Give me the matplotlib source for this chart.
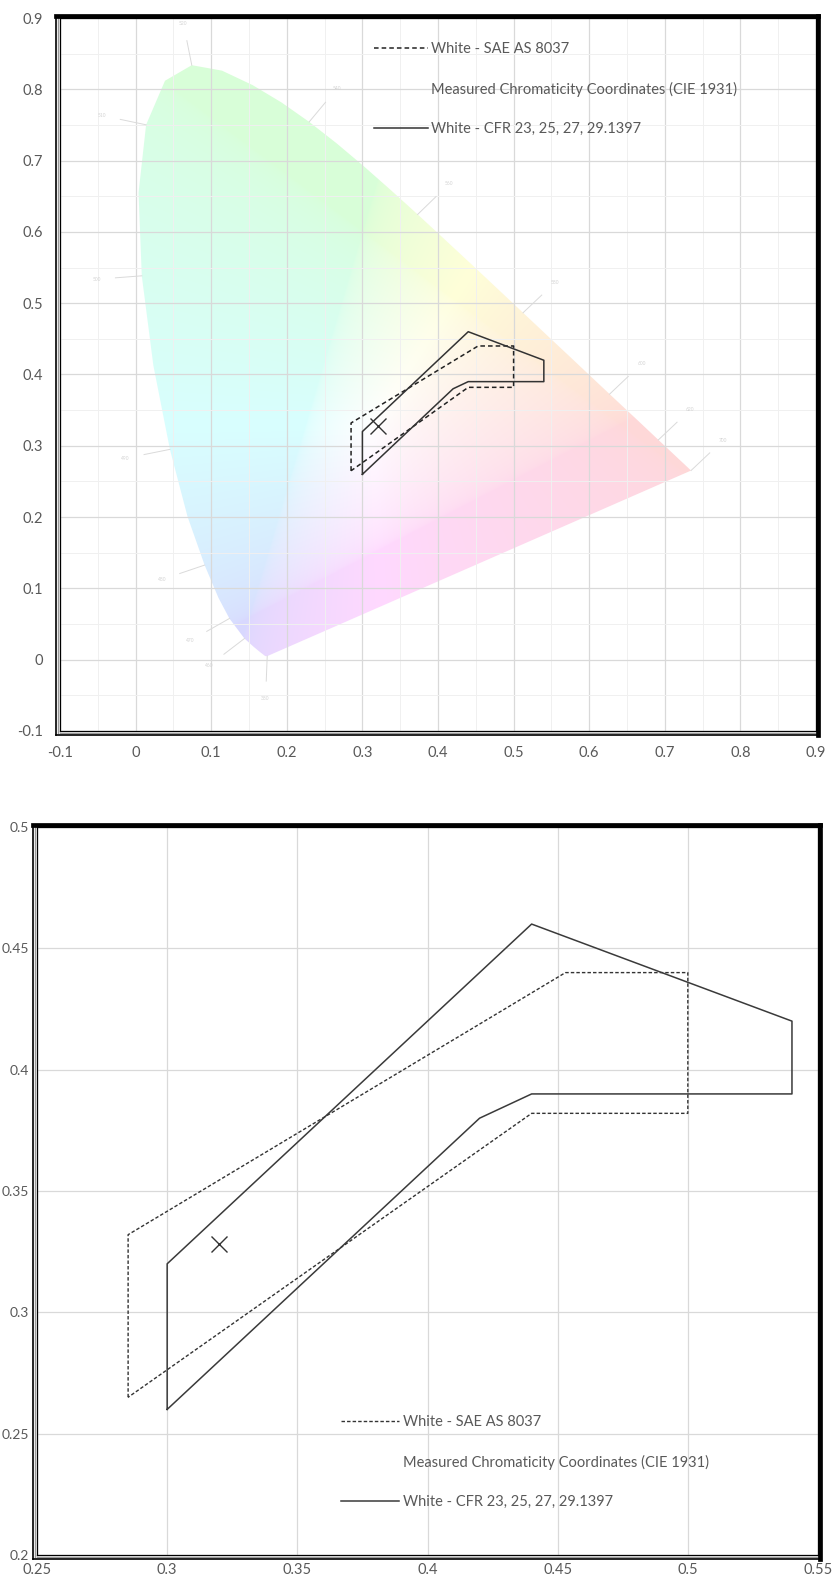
import numpy as np
import matplotlib
matplotlib.use("Agg")
import matplotlib.pyplot as plt
from matplotlib.lines import Line2D
from matplotlib.patches import Polygon
from matplotlib.ticker import MultipleLocator, FuncFormatter

plt.rcParams['font.family'] = ['Lato', 'DejaVu Sans']

# CIE 1931 spectral locus
locus_nm = [380, 420, 440, 450, 460, 470, 475, 480, 485, 490, 495, 500, 505, 510,
            515, 520, 525, 530, 535, 540, 545, 550, 555, 560, 565, 570, 575, 580,
            585, 590, 595, 600, 610, 620, 630, 640, 650, 700]
locus_x = [0.1741, 0.1714, 0.1644, 0.1566, 0.1440, 0.1241, 0.1096, 0.0913, 0.0687,
           0.0454, 0.0235, 0.0082, 0.0039, 0.0139, 0.0389, 0.0743, 0.1142, 0.1547,
           0.1929, 0.2296, 0.2658, 0.3016, 0.3373, 0.3731, 0.4087, 0.4441, 0.4788,
           0.5125, 0.5448, 0.5752, 0.6029, 0.6270, 0.6658, 0.6915, 0.7079, 0.7190,
           0.7260, 0.7347]
locus_y = [0.0050, 0.0051, 0.0109, 0.0177, 0.0297, 0.0578, 0.0868, 0.1327, 0.2007,
           0.2950, 0.4127, 0.5384, 0.6548, 0.7502, 0.8120, 0.8338, 0.8262, 0.8059,
           0.7816, 0.7543, 0.7243, 0.6923, 0.6589, 0.6245, 0.5896, 0.5547, 0.5202,
           0.4866, 0.4544, 0.4242, 0.3965, 0.3725, 0.3340, 0.3083, 0.2920, 0.2809,
           0.2740, 0.2653]
label_nm = [380, 460, 470, 480, 490, 500, 510, 520, 540, 560, 580, 600, 620, 700]

# White - SAE AS 8037
sae_x = [0.285, 0.285, 0.453, 0.500, 0.500, 0.440, 0.285]
sae_y = [0.265, 0.332, 0.440, 0.440, 0.382, 0.382, 0.265]
# White - CFR 23, 25, 27, 29.1397
cfr_x = [0.30, 0.30, 0.44, 0.54, 0.54, 0.44, 0.42, 0.30]
cfr_y = [0.26, 0.32, 0.46, 0.42, 0.39, 0.39, 0.38, 0.26]
# Measured chromaticity coordinates
meas_x = [0.320]
meas_y = [0.328]

lbl_sae = "White - SAE AS 8037"
lbl_meas = "Measured Chromaticity Coordinates (CIE 1931)"
lbl_cfr = "White - CFR 23, 25, 27, 29.1397"

W, H = 836, 1578
fig = plt.figure(figsize=(W / 100, H / 100), dpi=100)
txt_color = '#595959'
grid_color = '#d9d9d9'


def fmt(v, pos):
    return f"{round(v, 3):g}"


def fig_line(x0, y0, x1, y1, **kw):
    # pixel coords measured from the top-left corner
    fig.add_artist(Line2D([x0 / W, x1 / W], [1 - y0 / H, 1 - y1 / H],
                          transform=fig.transFigure, solid_capstyle='projecting',
                          zorder=10, **kw))


def add_frame(left, top, right, bottom):
    # double line on left / bottom, heavy line on top / right (Excel shadowed border)
    fig_line(left - 1.8, top, left - 1.8, bottom + 1.8, color='#9a9a9a', lw=1.0)
    fig_line(left, bottom + 1.8, right, bottom + 1.8, color='#9a9a9a', lw=1.0)
    fig_line(left - 3.6, top - 2, left - 3.6, bottom + 3.6, color='black', lw=1.2)
    fig_line(left - 3.6, bottom + 3.6, right + 2, bottom + 3.6, color='black', lw=1.2)
    fig_line(left - 3.6, top - 2.2, right + 2.2, top - 2.2, color='black', lw=3.4)
    fig_line(right + 2.2, top - 2.2, right + 2.2, bottom + 3.6, color='black', lw=3.4)


def make_axes(left, top, right, bottom):
    ax = fig.add_axes([left / W, 1 - bottom / H, (right - left) / W, (bottom - top) / H])
    for s in ax.spines.values():
        s.set_linewidth(0.9)
        s.set_color('black')
    add_frame(left, top, right, bottom)
    return ax


# ---------- top chart: full chromaticity diagram ----------
ax1 = make_axes(60, 18, 816, 731)
ax1.set_xlim(-0.1, 0.9)
ax1.set_ylim(-0.1, 0.9)

gx = np.linspace(0.0, 0.75, 600)
gy = np.linspace(0.0, 0.86, 700)
GX, GY = np.meshgrid(gx, gy)
Yd = np.maximum(GY, 1e-3)
XX = GX / Yd
ZZ = (1 - GX - GY) / Yd
r = 3.2406 * XX - 1.5372 - 0.4986 * ZZ
g = -0.9689 * XX + 1.8758 + 0.0415 * ZZ
b = 0.0557 * XX - 0.2040 + 1.0570 * ZZ
rgb = np.clip(np.dstack([r, g, b]), 0, None)
rgb = rgb / (rgb.max(axis=2, keepdims=True) + 1e-9)
rgb = rgb ** (1 / 2.2)
rgb = 1 - 0.15 * (1 - rgb)
im = ax1.imshow(rgb, extent=[0.0, 0.75, 0.0, 0.86], origin='lower',
                interpolation='bilinear', zorder=0, aspect='auto')
clip = Polygon(np.column_stack([locus_x, locus_y]), closed=True,
               transform=ax1.transData, facecolor='none', edgecolor='none')
ax1.add_patch(clip)
im.set_clip_path(clip)

# faint wavelength ticks
lx = np.array(locus_x)
ly = np.array(locus_y)
for nm in label_nm:
    i = locus_nm.index(nm)
    i0 = max(i - 1, 0)
    i1 = min(i + 1, len(lx) - 1)
    tx, ty = lx[i1] - lx[i0], ly[i1] - ly[i0]
    n = np.hypot(tx, ty)
    nx, ny = -ty / n, tx / n
    ax1.plot([lx[i], lx[i] + 0.035 * nx], [ly[i], ly[i] + 0.035 * ny],
             color='#dadada', lw=0.7, zorder=1)
    ax1.text(lx[i] + 0.06 * nx, ly[i] + 0.06 * ny, str(nm), fontsize=3.5,
             color='#d4d4d4', ha='center', va='center', zorder=1)

ax1.xaxis.set_major_locator(MultipleLocator(0.1))
ax1.yaxis.set_major_locator(MultipleLocator(0.1))
ax1.xaxis.set_minor_locator(MultipleLocator(0.05))
ax1.yaxis.set_minor_locator(MultipleLocator(0.05))
ax1.xaxis.set_major_formatter(FuncFormatter(fmt))
ax1.yaxis.set_major_formatter(FuncFormatter(fmt))
ax1.set_axisbelow(True)
ax1.grid(which='major', color=grid_color, lw=0.9)
ax1.grid(which='minor', color='#f0f0f0', lw=0.7)
ax1.tick_params(which='both', length=0, labelsize=10.5, labelcolor=txt_color)
ax1.tick_params(axis='x', pad=11)
ax1.tick_params(axis='y', pad=12)

s1, = ax1.plot(sae_x, sae_y, color='#222222', lw=1.1, ls=(0, (3, 2)), zorder=3)
c1, = ax1.plot(cfr_x, cfr_y, color='#333333', lw=1.1, zorder=3)
ax1.plot(meas_x, meas_y, ls='none', marker='x', ms=11, mew=1.0, color='#333333', zorder=4)
blank = Line2D([], [], ls='none')
ax1.legend([s1, blank, c1], [lbl_sae, lbl_meas, lbl_cfr], loc='upper left',
           bbox_to_anchor=(0.415, 0.966), frameon=False, borderpad=0, borderaxespad=0,
           handlelength=3.7, handletextpad=0.25, labelspacing=1.75,
           fontsize=10.5, labelcolor=txt_color)

# ---------- bottom chart: zoomed region ----------
ax2 = make_axes(37, 827, 818, 1555)
ax2.set_xlim(0.25, 0.55)
ax2.set_ylim(0.2, 0.5)
ax2.xaxis.set_major_locator(MultipleLocator(0.05))
ax2.yaxis.set_major_locator(MultipleLocator(0.05))
ax2.xaxis.set_major_formatter(FuncFormatter(fmt))
ax2.yaxis.set_major_formatter(FuncFormatter(fmt))
ax2.set_axisbelow(True)
ax2.grid(which='major', color=grid_color, lw=0.9)
ax2.tick_params(which='both', length=0, labelsize=10, labelcolor=txt_color)
ax2.tick_params(axis='x', pad=6, labelsize=10.5)
ax2.tick_params(axis='y', pad=6)

s2, = ax2.plot(sae_x, sae_y, color='#333333', lw=1.0, ls=(0, (2.5, 1.5)), zorder=3)
c2, = ax2.plot(cfr_x, cfr_y, color='#3a3a3a', lw=1.1, zorder=3)
ax2.plot(meas_x, meas_y, ls='none', marker='x', ms=12, mew=1.0, color='#333333', zorder=4)
ax2.legend([s2, blank, c2], [lbl_sae, lbl_meas, lbl_cfr], loc='upper left',
           bbox_to_anchor=(0.389, 0.192), frameon=False, borderpad=0, borderaxespad=0,
           handlelength=4.0, handletextpad=0.25, labelspacing=1.75,
           fontsize=10.5, labelcolor=txt_color)

fig.savefig("out.png", dpi=100, facecolor='white')
